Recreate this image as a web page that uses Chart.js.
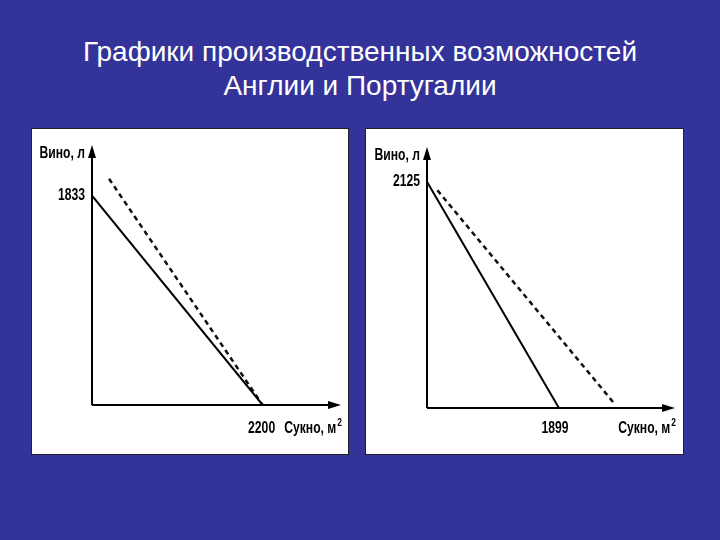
<!DOCTYPE html>
<html><head><meta charset="utf-8">
<script src="https://cdn.jsdelivr.net/npm/chart.js@4/dist/chart.umd.min.js"></script>
<style>
html,body{margin:0;padding:0;}
body{width:720px;height:540px;background:#333399;position:relative;overflow:hidden;font-family:"Liberation Sans",Arial,sans-serif;}
#title{position:absolute;left:0;top:35px;width:720px;text-align:center;color:#fff;font-size:28px;line-height:34px;}
.panel{position:absolute;background:#fff;border:1px solid #222;box-sizing:border-box;}
.panel canvas{position:absolute;left:0;top:0;}
</style></head>
<body>
<div id="title">Графики производственных возможностей<br>Англии и Португалии</div>
<div class="panel" id="p1" style="left:31px;top:128px;width:318px;height:327px;"><canvas id="c1"></canvas></div>
<div class="panel" id="p2" style="left:365px;top:128px;width:319px;height:327px;"><canvas id="c2"></canvas></div>
<script>
// England
const englandCloth = [0, 2200];
const englandWine = [1833, 0];
const englandTradeCloth = [220, 2200];
const englandTradeWine = [1980, 0];
const englandXTicks = [2200];
const englandYTicks = [1833];
// Portugal
const portugalCloth = [0, 1899];
const portugalWine = [2125, 0];
const portugalTradeCloth = [150, 2680];
const portugalTradeWine = [2045, 55];
const portugalXTicks = [1899];
const portugalYTicks = [2125];

const yAxisTitle = 'Вино, л';
const xAxisTitle = 'Сукно, м';
const xAxisSup = '2';
const FONT = '"Liberation Sans",Arial,sans-serif';
const SX = 0.76;

function pts(xs, ys){ return xs.map((x,i)=>({x:x, y:ys[i]})); }

function txt(ctx, s, x, y, align){
  ctx.save();
  ctx.translate(x, y);
  ctx.scale(SX, 1);
  ctx.textAlign = align;
  ctx.fillText(s, 0, 0);
  ctx.restore();
}

const axesPlugin = {
  id:'axesPlugin',
  afterDraw(chart, args, o){
    const ctx = chart.ctx, a = chart.chartArea;
    const xs = chart.scales.x, ys = chart.scales.y;
    const x0 = xs.getPixelForValue(0), y0 = ys.getPixelForValue(0);
    ctx.save();
    ctx.strokeStyle = '#000'; ctx.fillStyle = '#000'; ctx.lineWidth = 2;
    ctx.beginPath();
    ctx.moveTo(x0, y0); ctx.lineTo(x0, a.top + 4);
    ctx.moveTo(x0, y0); ctx.lineTo(a.right - 4, y0);
    ctx.stroke();
    // arrows
    ctx.beginPath();
    ctx.moveTo(x0, a.top - 4); ctx.lineTo(x0 - 4, a.top + 9); ctx.lineTo(x0 + 4, a.top + 9); ctx.closePath(); ctx.fill();
    ctx.beginPath();
    ctx.moveTo(a.right + 4, y0); ctx.lineTo(a.right - 9, y0 - 4); ctx.lineTo(a.right - 9, y0 + 4); ctx.closePath(); ctx.fill();
    // labels
    ctx.font = 'bold 16px ' + FONT;
    ctx.textBaseline = 'middle';
    txt(ctx, yAxisTitle, x0 - 7, a.top + 5, 'right');
    o.yTicks.forEach(v => txt(ctx, String(v), x0 - 7, ys.getPixelForValue(v), 'right'));
    o.xTicks.forEach(v => txt(ctx, String(v), xs.getPixelForValue(v) + o.xTickShift, y0 + o.labelDy, 'center'));
    // axis title with superscript
    ctx.font = 'bold 11px ' + FONT;
    const supW = ctx.measureText(xAxisSup).width * SX;
    const right = a.right + 5;
    txt(ctx, xAxisSup, right, y0 + o.labelDy - 6, 'right');
    ctx.font = 'bold 16px ' + FONT;
    txt(ctx, xAxisTitle, right - supW - 1, y0 + o.labelDy, 'right');
    ctx.restore();
  }
};

function makeChart(id, cloth, wine, tCloth, tWine, xTicks, yTicks, xmax, ymax, pad, xTickShift, labelDy){
  const el = document.getElementById(id);
  const p = el.parentElement;
  el.width = p.clientWidth; el.height = p.clientHeight;
  return new Chart(el, {
    type:'scatter',
    data:{datasets:[
      {data:pts(cloth, wine), showLine:true, borderColor:'#000', borderWidth:2, pointRadius:0, fill:false},
      {data:pts(tCloth, tWine), showLine:true, borderColor:'#111', borderWidth:2.5, borderDash:[5,4], pointRadius:0, fill:false}
    ]},
    options:{
      responsive:false, animation:false, events:[],
      layout:{padding:pad},
      plugins:{legend:{display:false}, tooltip:{enabled:false},
        axesPlugin:{xTicks:xTicks, yTicks:yTicks, xTickShift:xTickShift, labelDy:labelDy}},
      scales:{
        x:{type:'linear', min:0, max:xmax, display:false},
        y:{type:'linear', min:0, max:ymax, display:false}
      }
    },
    plugins:[axesPlugin]
  });
}

makeChart('c1', englandCloth, englandWine, englandTradeCloth, englandTradeWine, englandXTicks, englandYTicks,
  3159, 2241, {left:60, top:20, right:11, bottom:49}, -1, 24);
makeChart('c2', portugalCloth, portugalWine, portugalTradeCloth, portugalTradeWine, portugalXTicks, portugalYTicks,
  3512, 2414, {left:61, top:22, right:12, bottom:46}, -4, 21);
</script>
</body></html>
